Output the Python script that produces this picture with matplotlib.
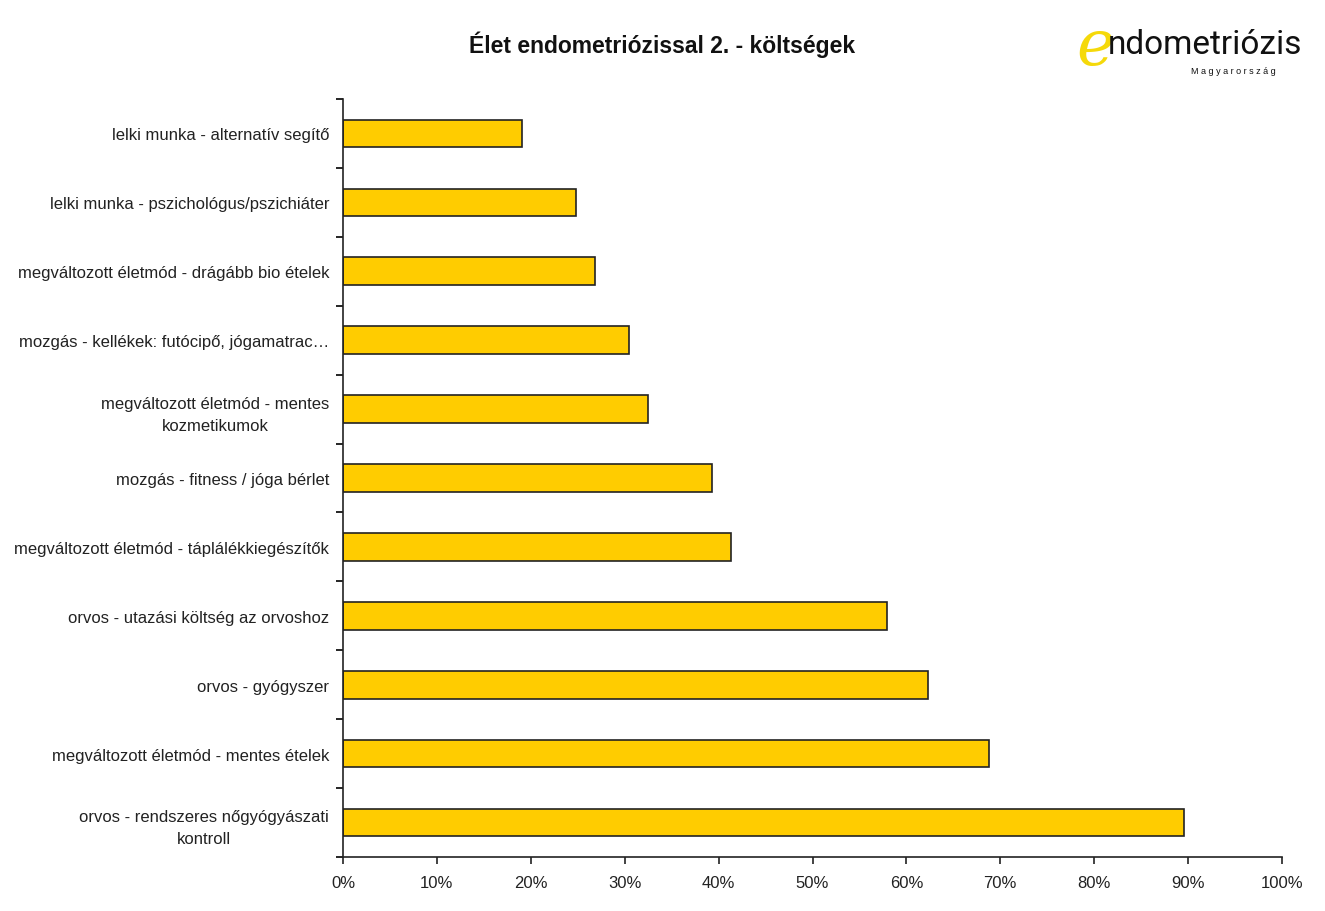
import matplotlib.pyplot as plt
from matplotlib.ticker import PercentFormatter, FixedLocator, NullFormatter

plt.rcParams['font.family'] = ['Liberation Sans', 'DejaVu Sans']

categories = ['orvos - rendszeres nőgyógyászati\nkontroll',
              'megváltozott életmód - mentes ételek',
              'orvos - gyógyszer',
              'orvos - utazási költség az orvoshoz',
              'megváltozott életmód - táplálékkiegészítők',
              'mozgás - fitness / jóga bérlet',
              'megváltozott életmód - mentes\nkozmetikumok',
              'mozgás - kellékek: futócipő, jógamatrac…',
              'megváltozott életmód - drágább bio ételek',
              'lelki munka - pszichológus/pszichiáter',
              'lelki munka - alternatív segítő']
values = [89.6, 68.8, 62.3, 57.9, 41.3, 39.3, 32.5, 30.5, 26.8, 24.8, 19.1]
x_ticks = list(range(0, 101, 10))

fig = plt.figure(figsize=(13.25, 9.12), dpi=100)
ax = fig.add_axes([343 / 1325, 1 - 858 / 912, (1282 - 343) / 1325, (858 - 100) / 912])

pos = list(range(len(categories)))
ax.barh(pos, values, height=0.4, color='#FFCC00', edgecolor='#222222', linewidth=1.2)

ax.set_xlim(0, 100)
ax.set_ylim(-0.5, len(categories) - 0.5)
ax.set_xticks(x_ticks)
ax.xaxis.set_major_formatter(PercentFormatter(decimals=0))
ax.set_yticks(pos)
ax.set_yticklabels(categories, ha='right', multialignment='center', linespacing=1.6)
ax.yaxis.set_minor_locator(FixedLocator([p - 0.5 for p in pos] + [len(pos) - 0.5]))
ax.yaxis.set_minor_formatter(NullFormatter())
ax.tick_params(axis='y', which='major', length=0, pad=10, labelsize=12, colors='#222222')
ax.tick_params(axis='y', which='minor', length=5, width=1.2, direction='out')
ax.tick_params(axis='x', length=5, width=1.2, direction='out', labelsize=12, colors='#222222', pad=8)

for s in ['top', 'right']:
    ax.spines[s].set_visible(False)
for s in ['left', 'bottom']:
    ax.spines[s].set_linewidth(1.2)
    ax.spines[s].set_color('#222222')

fig.text(662 / 1325, 1 - 45 / 912, 'Élet endometriózissal 2. - költségek',
         ha='center', va='center', fontsize=16.5, fontweight='bold', color='#111111')

# logo
fig.text(1095 / 1325, 1 - 48 / 912, 'e', ha='center', va='center', fontsize=46,
         style='italic', color='#F5D90A', family='DejaVu Serif')
fig.text(1108 / 1325, 1 - 45 / 912, 'ndometriózis', ha='left', va='center',
         fontsize=24, color='#111111', family='Roboto')
fig.text(1233 / 1325, 1 - 71 / 912, ' '.join('Magyarország'), ha='center', va='center',
         fontsize=6.5, color='#111111')

fig.savefig('out.png', dpi=100)
